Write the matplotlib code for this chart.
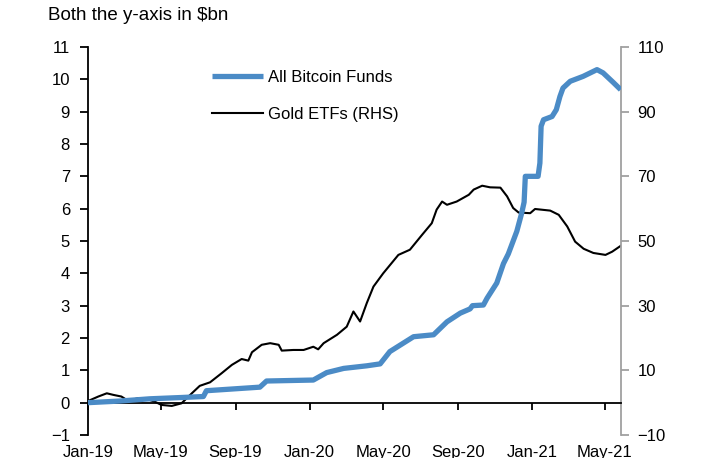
import numpy as np
import pandas as pd
import matplotlib
matplotlib.use("Agg")
import matplotlib.pyplot as plt
import matplotlib.dates as mdates

plt.rcParams['font.family'] = ['Liberation Sans', 'DejaVu Sans']

# All Bitcoin Funds, $bn (left axis)
btc_dates = ["2019-01-01", "2019-02-22", "2019-04-13", "2019-06-04", "2019-07-10", "2019-07-15",
             "2019-10-11", "2019-10-22", "2020-01-07", "2020-01-29", "2020-02-26", "2020-04-04",
             "2020-04-26", "2020-05-12", "2020-06-20", "2020-07-23", "2020-08-14", "2020-09-05",
             "2020-09-21", "2020-09-25", "2020-10-13", "2020-10-19", "2020-11-04", "2020-11-15",
             "2020-11-23", "2020-12-07", "2020-12-15", "2020-12-19", "2020-12-21", "2021-01-11",
             "2021-01-14", "2021-01-16", "2021-01-20", "2021-02-03", "2021-02-10", "2021-02-16",
             "2021-02-21", "2021-03-05", "2021-03-26", "2021-04-18", "2021-04-28", "2021-05-15",
             "2021-05-27"]
btc_values = [0.0, 0.05, 0.12, 0.16, 0.19, 0.37,
              0.48, 0.67, 0.70, 0.93, 1.06, 1.14,
              1.20, 1.58, 2.04, 2.10, 2.50, 2.77,
              2.90, 3.00, 3.02, 3.23, 3.70, 4.30,
              4.60, 5.30, 5.86, 6.20, 7.00, 7.00,
              7.41, 8.55, 8.75, 8.85, 9.06, 9.47,
              9.73, 9.94, 10.09, 10.30, 10.20, 9.90,
              9.68]

# Gold ETFs, $bn (right axis)
gold_dates = ["2019-01-01", "2019-01-18", "2019-02-01", "2019-02-12", "2019-02-25", "2019-03-08",
              "2019-03-25", "2019-04-10", "2019-04-21", "2019-05-02", "2019-05-19", "2019-06-04",
              "2019-06-21", "2019-07-04", "2019-07-21", "2019-08-09", "2019-08-26", "2019-09-11",
              "2019-09-22", "2019-09-28", "2019-10-14", "2019-10-28", "2019-11-11", "2019-11-16",
              "2019-12-05", "2019-12-22", "2020-01-07", "2020-01-15", "2020-01-24", "2020-02-15",
              "2020-03-02", "2020-03-13", "2020-03-24", "2020-04-04", "2020-04-15", "2020-05-01",
              "2020-05-26", "2020-06-14", "2020-07-04", "2020-07-20", "2020-07-28", "2020-08-06",
              "2020-08-14", "2020-08-30", "2020-09-19", "2020-09-27", "2020-10-11", "2020-10-24",
              "2020-11-10", "2020-11-21", "2020-12-01", "2020-12-10", "2020-12-29", "2021-01-06",
              "2021-01-31", "2021-02-14", "2021-02-28", "2021-03-13", "2021-03-27", "2021-04-12",
              "2021-05-02", "2021-05-13", "2021-05-27"]
gold_values = [0.5, 1.9, 2.9, 2.4, 1.9, 0.6,
               1.4, 1.0, 0.3, -0.7, -1.0, -0.2,
               2.9, 5.2, 6.3, 9.1, 11.7, 13.5,
               13.0, 15.6, 17.9, 18.4, 17.9, 16.1,
               16.3, 16.3, 17.3, 16.5, 18.4, 21.0,
               23.5, 28.2, 25.1, 30.8, 35.9, 40.0,
               45.7, 47.3, 51.9, 55.5, 59.7, 62.2,
               61.2, 62.2, 64.3, 65.9, 67.1, 66.6,
               66.5, 63.8, 60.2, 58.8, 58.6, 59.9,
               59.4, 58.1, 54.5, 49.8, 47.6, 46.3,
               45.7, 46.7, 48.5]

left_ticks = list(range(-1, 12))
right_ticks = [-10, 10, 30, 50, 70, 90, 110]

btc_x = pd.to_datetime(btc_dates)
gold_x = pd.to_datetime(gold_dates)

fig = plt.figure(figsize=(7.1, 4.58), dpi=100)
ax = fig.add_axes([0.1239, 0.0502, 0.7503, 0.8472])
ax2 = ax.twinx()

blue = "#4b8bc6"
l1, = ax.plot(btc_x, btc_values, color=blue, lw=3.8, solid_capstyle='butt', zorder=3)
l2, = ax2.plot(gold_x, gold_values, color="black", lw=1.5, zorder=2)

ax.set_xlim(pd.Timestamp("2019-01-01"), pd.Timestamp("2021-05-27"))
ax.set_ylim(-1, 11)
ax2.set_ylim(-10, 110)
ax.set_yticks(left_ticks)
ax2.set_yticks(right_ticks)

ax.xaxis.set_major_locator(mdates.MonthLocator(bymonth=[1, 5, 9]))
ax.xaxis.set_major_formatter(mdates.DateFormatter('%b-%y'))

# spines
ax.spines['top'].set_visible(False)
ax.spines['right'].set_visible(False)
ax.spines['bottom'].set_position(('data', 0))
ax2.spines['top'].set_visible(False)
ax2.spines['left'].set_visible(False)
ax2.spines['bottom'].set_visible(False)
ax2.spines['right'].set_color("#a0a0a0")
ax2.spines['right'].set_linewidth(1.3)
ax.spines['left'].set_linewidth(1.3)
ax.spines['bottom'].set_linewidth(1.3)

ax.tick_params(axis='y', direction='out', length=6, width=1.3, labelsize=12, pad=7)
ax.tick_params(axis='x', direction='out', length=5, width=1.3, labelsize=12, pad=25.5)
ax2.tick_params(axis='y', direction='out', length=6, width=1.3, labelsize=12, pad=6,
                color="#a0a0a0")

ax.set_zorder(ax2.get_zorder() + 1)
ax.patch.set_visible(False)

ax.legend([l1, l2], ["All Bitcoin Funds", "Gold ETFs (RHS)"], loc='upper left',
          bbox_to_anchor=(0.233, 0.94), frameon=False, fontsize=12, borderpad=0,
          borderaxespad=0, handlelength=3.06, handletextpad=0.3, labelspacing=1.3)

fig.text(48 / 710, 1 - 20 / 458, "Both the y-axis in $bn", fontsize=13.5, va='baseline')

fig.savefig("out.png", dpi=100)
